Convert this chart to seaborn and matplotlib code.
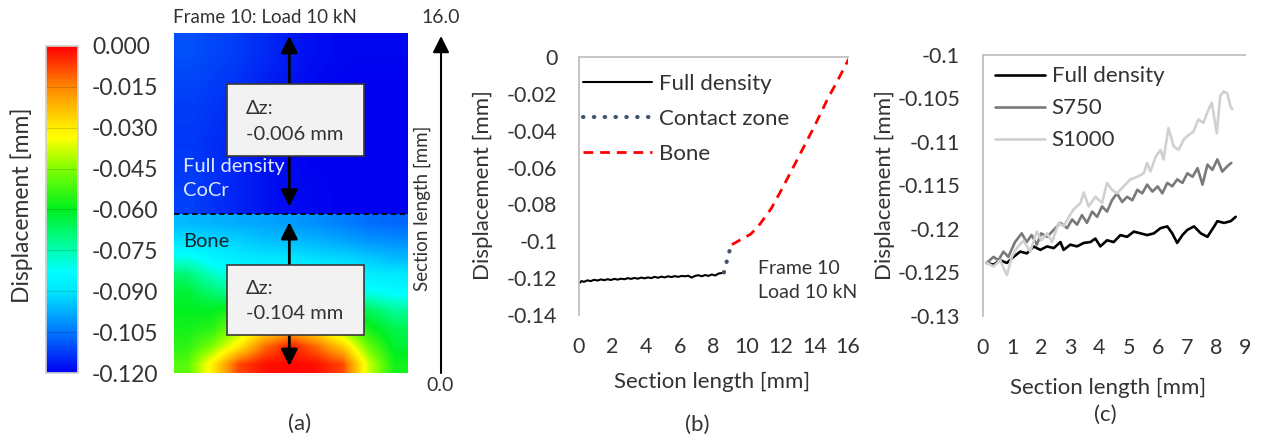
import numpy as np
import pandas as pd
import seaborn as sns
import matplotlib.pyplot as plt
from matplotlib.colors import LinearSegmentedColormap, Normalize
from matplotlib.patches import Rectangle

# ---------------- data ----------------
# (a) displacement map [mm], rows top -> bottom, columns left -> right
cocr_field = [
    [-0.110, -0.112, -0.115, -0.118, -0.119, -0.119],
    [-0.112, -0.114, -0.117, -0.119, -0.120, -0.120],
    [-0.113, -0.115, -0.118, -0.120, -0.120, -0.120],
    [-0.112, -0.115, -0.118, -0.119, -0.120, -0.120],
]
bone_field = [
    [-0.096, -0.097, -0.098, -0.099, -0.100, -0.102, -0.104, -0.106, -0.107],
    [-0.091, -0.092, -0.093, -0.095, -0.096, -0.097, -0.099, -0.101, -0.102],
    [-0.080, -0.086, -0.089, -0.090, -0.090, -0.091, -0.092, -0.094, -0.096],
    [-0.068, -0.076, -0.082, -0.085, -0.086, -0.086, -0.087, -0.088, -0.089],
    [-0.062, -0.068, -0.072, -0.075, -0.076, -0.077, -0.078, -0.080, -0.083],
    [-0.060, -0.060, -0.055, -0.050, -0.045, -0.050, -0.058, -0.066, -0.072],
    [-0.058, -0.055, -0.042, -0.030, -0.022, -0.030, -0.045, -0.058, -0.065],
    [-0.055, -0.045, -0.030, -0.012, -0.003, -0.012, -0.025, -0.048, -0.062],
    [-0.050, -0.030, -0.008, -0.002, -0.001, -0.002, -0.008, -0.038, -0.058],
]
interface_mm = 7.47
section_top = 16.0
cbar_ticks = [0.0, -0.015, -0.030, -0.045, -0.060, -0.075, -0.090, -0.105, -0.120]
cbar_labels = ['0.000', '-0.015', '-0.030', '-0.045', '-0.060', '-0.075', '-0.090', '-0.105', '-0.120']
dz_cocr = '-0.006 mm'
dz_bone = '-0.104 mm'

# (b) displacement along the section
fd_b_x = [0.0, 0.15, 0.3, 0.5, 0.7, 0.9, 1.1, 1.3, 1.5, 1.7, 1.9, 2.1, 2.3, 2.5, 2.7, 2.9,
          3.1, 3.3, 3.5, 3.7, 3.9, 4.1, 4.3, 4.5, 4.7, 4.9, 5.1, 5.3, 5.5, 5.7, 5.9, 6.1,
          6.3, 6.5, 6.7, 6.9, 7.1, 7.3, 7.5, 7.7, 7.9, 8.1, 8.3, 8.5, 8.62]
fd_b_y = [-0.1229, -0.1216, -0.1220, -0.1212, -0.1216, -0.1209, -0.1213, -0.1207, -0.1211,
          -0.1206, -0.1210, -0.1204, -0.1208, -0.1203, -0.1206, -0.1200, -0.1204, -0.1199,
          -0.1203, -0.1197, -0.1201, -0.1196, -0.1200, -0.1193, -0.1198, -0.1192, -0.1196,
          -0.1190, -0.1194, -0.1189, -0.1193, -0.1188, -0.1190, -0.1187, -0.1197, -0.1188,
          -0.1184, -0.1190, -0.1183, -0.1188, -0.1180, -0.1186, -0.1175, -0.1172, -0.1169]
contact_x = [8.62, 9.0]
contact_y = [-0.1169, -0.1035]
bone_x = [9.1, 9.83, 10.2, 10.63, 11.43, 12.0, 12.62, 13.59, 14.02, 14.8, 15.3, 16.05]
bone_y = [-0.1018, -0.0980, -0.0962, -0.0923, -0.0823, -0.0728, -0.0620, -0.0449,
          -0.0373, -0.0225, -0.0142, -0.0010]
b_xticks = [0, 2, 4, 6, 8, 10, 12, 14, 16]
b_yticks = [0, -0.02, -0.04, -0.06, -0.08, -0.1, -0.12, -0.14]
b_ylabels = ['0', '-0.02', '-0.04', '-0.06', '-0.08', '-0.1', '-0.12', '-0.14']

# (c) full density vs. porous structures
fd_c_x = [0.13, 0.36, 0.59, 0.82, 1.05, 1.28, 1.51, 1.74, 1.97, 2.2, 2.43, 2.66, 2.77, 3.0,
          3.23, 3.46, 3.69, 3.86, 4.03, 4.26, 4.49, 4.72, 4.95, 5.18, 5.41, 5.64, 5.87, 6.1,
          6.33, 6.5, 6.67, 6.85, 7.02, 7.25, 7.48, 7.71, 7.94, 8.05, 8.28, 8.51, 8.68]
fd_c_y = [-0.1239, -0.1241, -0.1236, -0.1239, -0.1232, -0.1226, -0.1228, -0.1220, -0.1224,
          -0.1220, -0.1222, -0.1215, -0.1224, -0.1218, -0.1220, -0.1216, -0.1215, -0.1211,
          -0.1220, -0.1213, -0.1215, -0.1207, -0.1209, -0.1203, -0.1205, -0.1207, -0.1205,
          -0.1199, -0.1197, -0.1205, -0.1216, -0.1207, -0.1201, -0.1197, -0.1205, -0.1209,
          -0.1197, -0.1191, -0.1193, -0.1191, -0.1186]
s750_x = [0.13, 0.36, 0.53, 0.70, 0.87, 1.1, 1.33, 1.5, 1.67, 1.85, 2.0, 2.2, 2.43, 2.66,
          2.89, 3.06, 3.23, 3.4, 3.57, 3.75, 3.92, 4.09, 4.26, 4.43, 4.6, 4.78, 4.95, 5.13,
          5.3, 5.47, 5.64, 5.82, 6.0, 6.16, 6.33, 6.5, 6.67, 6.85, 7.02, 7.2, 7.37, 7.54,
          7.71, 7.88, 8.05, 8.22, 8.39, 8.53]
s750_y = [-0.1239, -0.1232, -0.1236, -0.1226, -0.1232, -0.1215, -0.1205, -0.1215, -0.1207,
          -0.1218, -0.1205, -0.1209, -0.1201, -0.1193, -0.1199, -0.1189, -0.1195, -0.1184,
          -0.1193, -0.1180, -0.1186, -0.1174, -0.1180, -0.1167, -0.1159, -0.1169, -0.1163,
          -0.1167, -0.1155, -0.1159, -0.1149, -0.1157, -0.1151, -0.1159, -0.1147, -0.1151,
          -0.1143, -0.1147, -0.1136, -0.1140, -0.1130, -0.1149, -0.1126, -0.1132, -0.1120,
          -0.1134, -0.1128, -0.1124]
s1000_x = [0.13, 0.36, 0.59, 0.82, 0.99, 1.16, 1.39, 1.62, 1.85, 2.0, 2.2, 2.37, 2.6, 2.77,
           2.95, 3.1, 3.35, 3.46, 3.63, 3.86, 4.09, 4.26, 4.43, 4.6, 4.83, 5.06, 5.3, 5.52,
           5.64, 5.75, 5.93, 6.1, 6.2, 6.37, 6.55, 6.72, 6.9, 7.06, 7.23, 7.4, 7.57, 7.74,
           7.86, 8.03, 8.15, 8.26, 8.39, 8.5, 8.56]
s1000_y = [-0.1239, -0.1243, -0.1236, -0.1253, -0.1232, -0.1222, -0.1213, -0.1226, -0.1203,
           -0.1213, -0.1205, -0.1215, -0.1193, -0.1197, -0.1186, -0.1178, -0.1170, -0.1158,
           -0.1174, -0.1163, -0.1170, -0.1147, -0.1155, -0.1159, -0.1151, -0.1143, -0.1140,
           -0.1136, -0.1124, -0.1134, -0.1117, -0.1109, -0.1120, -0.1084, -0.1105, -0.1109,
           -0.1097, -0.1092, -0.1088, -0.1074, -0.1078, -0.1063, -0.1055, -0.1090, -0.1047,
           -0.1042, -0.1044, -0.1059, -0.1062]
c_xticks = [0, 1, 2, 3, 4, 5, 6, 7, 8, 9]
c_yticks = [-0.1, -0.105, -0.11, -0.115, -0.12, -0.125, -0.13]
c_ylabels = ['-0.1', '-0.105', '-0.11', '-0.115', '-0.12', '-0.125', '-0.13']

# ---------------- figure ----------------
sns.set_theme(style='white')
plt.rcParams['font.family'] = ['Lato', 'DejaVu Sans']
plt.rcParams['axes.unicode_minus'] = False

W, H = 1264, 441
fig = plt.figure(figsize=(W / 100, H / 100), dpi=100)
TXT = '#333333'


def px_axes(x0, y0, x1, y1):
    return fig.add_axes([x0 / W, 1 - y1 / H, (x1 - x0) / W, (y1 - y0) / H])


def ftext(x, y, s, **kw):
    kw.setdefault('color', TXT)
    fig.text(x / W, 1 - y / H, s, ha='center', va='center', **kw)


# ---- (a) displacement map ----
cmap = LinearSegmentedColormap.from_list('disp', [
    (0.0, '#0000f0'), (0.125, '#0078ff'), (0.25, '#00e8ff'), (0.31, '#00ffff'),
    (0.375, '#00ffb0'), (0.5, '#00f020'), (0.625, '#80ff00'), (0.72, '#ffff00'),
    (0.75, '#ffee00'), (0.875, '#ff8800'), (1.0, '#ff0000')])
norm = Normalize(vmin=-0.12, vmax=0.0)

ax_img = px_axes(174, 33, 407, 373)
ax_img.imshow(np.array(cocr_field), cmap=cmap, norm=norm, aspect='auto',
              interpolation='bilinear', extent=(0, 10, interface_mm, section_top))
im = ax_img.imshow(np.array(bone_field), cmap=cmap, norm=norm, aspect='auto',
                   interpolation='bilinear', extent=(0, 10, 0, interface_mm))
ax_img.set_xlim(0, 10)
ax_img.set_ylim(0, section_top)
ax_img.axis('off')
ax_img.axhline(interface_mm, color='black', lw=1.3, ls=(0, (3, 2)))

arrow_kw = dict(arrowstyle='<|-|>', color='black', lw=2, mutation_scale=25,
                shrinkA=0, shrinkB=0)
ax_img.annotate('', xy=(4.95, 15.86), xytext=(4.95, 7.83), arrowprops=arrow_kw)
ax_img.annotate('', xy=(4.95, 7.1), xytext=(4.95, 0.33), arrowprops=arrow_kw)
for y0, h, dz in [(10.21, 3.39, dz_cocr), (1.79, 3.29, dz_bone)]:
    ax_img.add_patch(Rectangle((2.27, y0), 5.88, h, facecolor='#f2f2f2',
                               edgecolor='#3a3a3a', lw=1.2, zorder=4))
    ax_img.text(3.09, y0 + h * 0.66, '\u0394z:', ha='left', va='center',
                fontsize=14.5, color=TXT, zorder=5)
    ax_img.text(3.09, y0 + h * 0.30, dz, ha='left', va='center',
                fontsize=14.5, color=TXT, zorder=5)

ax_img.text(0.39, 9.13, 'Full density\nCoCr', ha='left', va='center',
            fontsize=14.5, color='#dde8ff', linespacing=1.5)
ax_img.text(0.39, 6.21, 'Bone', ha='left', va='center', fontsize=14.5, color='#15262a')
ax_img.text(3.9, 16.75, 'Frame 10: Load 10 kN', ha='center', va='center',
            fontsize=13.5, color=TXT)

# section length arrow on the right
ax_img.annotate('', xy=(11.46, 15.86), xytext=(11.46, 0.0), annotation_clip=False,
                arrowprops=dict(arrowstyle='-|>', color='black', lw=1.5,
                                mutation_scale=25, shrinkA=0, shrinkB=0))
ax_img.text(11.46, 16.75, f'{section_top:.1f}', ha='center', va='center', fontsize=14, color=TXT)
ax_img.text(11.42, -0.61, '0.0', ha='center', va='center', fontsize=14, color=TXT)
ax_img.text(10.64, 7.76, 'Section length [mm]', rotation=90, ha='center', va='center',
            fontsize=13.5, color=TXT)

cax = px_axes(46, 46, 78, 373)
cbar = fig.colorbar(im, cax=cax)
cbar.set_ticks(cbar_ticks)
cbar.set_ticklabels(cbar_labels)
cbar.ax.tick_params(length=0, pad=10, labelsize=16.5, labelcolor=TXT)
cbar.outline.set_edgecolor('#d0d0d0')
for v in cbar_ticks[1:-1]:
    cbar.ax.axhline(v, color='black', alpha=0.15, lw=0.8)
ftext(22, 205, 'Displacement [mm]', rotation=90, fontsize=16.5)
ftext(300, 424, '(a)', fontsize=16)

# ---- (b) ----
ax_b = px_axes(579, 57, 848, 315)
sns.lineplot(x=fd_b_x, y=fd_b_y, ax=ax_b, color='black', lw=1.5, label='Full density')
sns.lineplot(x=contact_x, y=contact_y, ax=ax_b, color='#44546a', lw=3,
             linestyle=(0, (0.1, 2.5)), dash_capstyle='round', label='Contact zone')
sns.lineplot(x=bone_x, y=bone_y, ax=ax_b, color='#ff0000', lw=2,
             linestyle=(0, (3.5, 2.5)), label='Bone')
ax_b.set_xlim(0, 16)
ax_b.set_ylim(-0.14, 0)
ax_b.set_xticks(b_xticks)
ax_b.set_yticks(b_yticks)
ax_b.set_yticklabels(b_ylabels)
ax_b.text(10.63, -0.1211, 'Frame 10\nLoad 10 kN', ha='left', va='center',
          fontsize=14, color=TXT, linespacing=1.5)
ax_b.legend(loc='upper left', bbox_to_anchor=(0.015, 0.936), frameon=False, fontsize=16,
            handlelength=3.1, handletextpad=0.3, labelspacing=0.69, borderpad=0,
            borderaxespad=0, labelcolor=TXT)

# ---- (c) ----
ax_c = px_axes(983, 55, 1245, 316)
sns.lineplot(x=fd_c_x, y=fd_c_y, ax=ax_c, color='black', lw=1.9, label='Full density')
sns.lineplot(x=s750_x, y=s750_y, ax=ax_c, color='#7a7a7a', lw=1.9, label='S750')
sns.lineplot(x=s1000_x, y=s1000_y, ax=ax_c, color='#d0d0d0', lw=1.9, label='S1000')
ax_c.set_xlim(0, 9)
ax_c.set_ylim(-0.13, -0.1)
ax_c.set_xticks(c_xticks)
ax_c.set_yticks(c_yticks)
ax_c.set_yticklabels(c_ylabels)
ax_c.legend(loc='upper left', bbox_to_anchor=(0.046, 0.956), frameon=False, fontsize=16,
            handlelength=2.25, handletextpad=0.3, labelspacing=0.54, borderpad=0,
            borderaxespad=0, labelcolor=TXT)

for ax, ypad in [(ax_b, 15.5), (ax_c, 16.5)]:
    ax.spines['right'].set_visible(False)
    ax.spines['bottom'].set_visible(False)
    for s in ['top', 'left']:
        ax.spines[s].set_color('#bfbfbf')
        ax.spines[s].set_linewidth(1.3)
    ax.set_xlabel('')
    ax.set_ylabel('')
    ax.tick_params(length=0, labelsize=15.5, labelcolor=TXT)
    ax.tick_params(axis='x', pad=16)
    ax.tick_params(axis='y', pad=ypad)

ftext(483, 185, 'Displacement [mm]', rotation=90, fontsize=16)
ftext(712, 382, 'Section length [mm]', fontsize=16)
ftext(697, 425, '(b)', fontsize=16)
ftext(885, 185, 'Displacement [mm]', rotation=90, fontsize=16)
ftext(1108, 388, 'Section length [mm]', fontsize=16)
ftext(1105, 415, '(c)', fontsize=16)

fig.savefig('out.png', dpi=100)
